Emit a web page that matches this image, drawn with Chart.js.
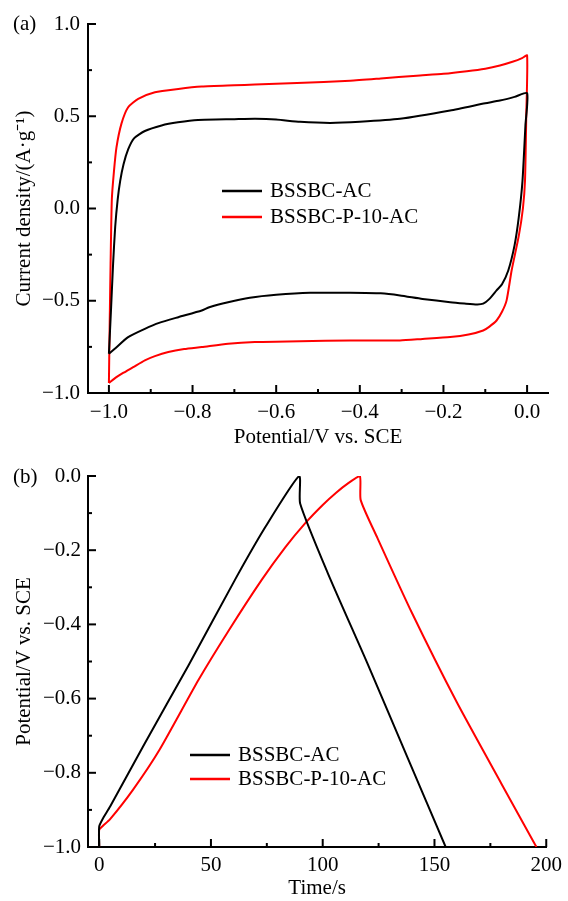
<!DOCTYPE html>
<html>
<head>
<meta charset="utf-8">
<script src="https://cdn.jsdelivr.net/npm/chart.js@4.4.1/dist/chart.umd.min.js"></script>
<style>
  body { margin: 0; background: #fff; }
  #wrap { position: relative; width: 568px; height: 901px; }
  canvas { position: absolute; left: 0; }
</style>
</head>
<body>
<div id="wrap">
  <canvas id="cvChart" width="568" height="450" style="top:0"></canvas>
  <canvas id="gcdChart" width="568" height="451" style="top:450px"></canvas>
</div>
<script>
// CV loops (potential V, current density A/g), anodic sweep then cathodic sweep
const cvPotentialAC = [-1.0, -0.995, -0.99, -0.985, -0.979, -0.973, -0.965, -0.954, -0.94, -0.914, -0.874, -0.835, -0.787, -0.7, -0.65, -0.6, -0.543, -0.471, -0.4, -0.304, -0.184, -0.1, -0.065, -0.03, 0.0,
  -0.004, -0.011, -0.02, -0.03, -0.045, -0.06, -0.073, -0.09, -0.105, -0.12, -0.15, -0.184, -0.25, -0.304, -0.35, -0.423, -0.519, -0.6, -0.663, -0.715, -0.76, -0.778, -0.834, -0.88, -0.914, -0.954, -0.986, -1.0];
const cvCurrentAC = [-0.787, -0.55, -0.3, -0.1, 0.05, 0.15, 0.24, 0.32, 0.38, 0.42, 0.45, 0.467, 0.48, 0.484, 0.486, 0.482, 0.47, 0.464, 0.47, 0.486, 0.531, 0.57, 0.585, 0.605, 0.625,
  0.45, 0.15, -0.05, -0.2, -0.336, -0.41, -0.444, -0.49, -0.516, -0.52, -0.515, -0.508, -0.49, -0.471, -0.46, -0.457, -0.457, -0.468, -0.484, -0.508, -0.535, -0.553, -0.589, -0.62, -0.652, -0.697, -0.76, -0.787];

const cvPotentialP10 = [-1.0, -0.998, -0.996, -0.993, -0.988, -0.982, -0.97, -0.954, -0.93, -0.89, -0.834, -0.778, -0.7, -0.651, -0.55, -0.423, -0.35, -0.264, -0.2, -0.144, -0.1, -0.065, -0.035, -0.012, 0.0,
  -0.002, -0.005, -0.01, -0.02, -0.037, -0.049, -0.06, -0.073, -0.09, -0.105, -0.14, -0.184, -0.25, -0.304, -0.423, -0.543, -0.651, -0.715, -0.778, -0.82, -0.858, -0.89, -0.914, -0.942, -0.965, -0.982, -1.0];
const cvCurrentP10 = [-0.946, -0.6, -0.3, 0.05, 0.2, 0.33, 0.46, 0.549, 0.594, 0.63, 0.648, 0.661, 0.668, 0.672, 0.68, 0.693, 0.705, 0.72, 0.73, 0.744, 0.758, 0.775, 0.795, 0.815, 0.83,
  0.5, 0.15, 0.0, -0.15, -0.336, -0.498, -0.56, -0.607, -0.64, -0.661, -0.683, -0.697, -0.707, -0.715, -0.715, -0.72, -0.724, -0.733, -0.751, -0.762, -0.778, -0.8, -0.823, -0.86, -0.89, -0.914, -0.946];

// charge/discharge (time s, potential V)
const gcdTimeAC = [0, 0, 1.5, 4.9, 20, 40, 61.1, 74.4, 89.5, 89.9, 102.5, 120, 138, 155];
const gcdPotentialAC = [-1.0, -0.945, -0.925, -0.891, -0.725, -0.51, -0.276, -0.137, 0.0, -0.074, -0.265, -0.505, -0.76, -1.0];
const gcdTimeP10 = [0, 0, 1.5, 4.9, 15.1, 27, 44.4, 58.1, 72.7, 83.4, 92.2, 100, 106, 111.3, 116.6, 117, 124.7, 140, 160, 180, 195.6];
const gcdPotentialP10 = [-1.0, -0.954, -0.944, -0.925, -0.846, -0.738, -0.55, -0.415, -0.28, -0.191, -0.127, -0.078, -0.045, -0.02, 0.0, -0.065, -0.17, -0.37, -0.61, -0.83, -1.0];

const seriesNames = ['BSSBC-AC', 'BSSBC-P-10-AC'];
const seriesColors = ['#000000', '#ff0000'];

const FONT = "'Liberation Serif', 'Times New Roman', serif";
Chart.defaults.font.family = FONT;
Chart.defaults.font.size = 21;
Chart.defaults.color = '#000';

const pts = (xs, ys) => xs.map((x, i) => ({ x, y: ys[i] }));
const minus = s => s.replace('-', '\u2212');

// inward major/minor tick marks on the left and bottom axes
const innerTicks = {
  id: 'innerTicks',
  afterDraw(chart, args, o) {
    const { ctx, chartArea: a, scales: { x, y } } = chart;
    ctx.save();
    ctx.strokeStyle = '#000';
    ctx.lineWidth = 2;
    const mark = (scale, step, horiz) => {
      const k0 = Math.ceil(scale.min / (step / 2) - 1e-6);
      const k1 = Math.floor(scale.max / (step / 2) + 1e-6);
      for (let k = k0; k <= k1; k++) {
        const len = k % 2 === 0 ? 8 : 4;
        const p = scale.getPixelForValue(k * step / 2);
        ctx.beginPath();
        if (horiz) { ctx.moveTo(p, a.bottom); ctx.lineTo(p, a.bottom - len); }
        else { ctx.moveTo(a.left, p); ctx.lineTo(a.left + len, p); }
        ctx.stroke();
      }
    };
    mark(x, o.xStep, true);
    mark(y, o.yStep, false);
    ctx.restore();
  }
};

// legend lines + names, and the panel letter
const sideNotes = {
  id: 'sideNotes',
  afterDraw(chart, args, o) {
    const ctx = chart.ctx;
    ctx.save();
    ctx.font = '21px ' + FONT;
    ctx.textBaseline = 'middle';
    ctx.fillStyle = '#000';
    ctx.fillText(o.panel, 13, o.panelY);
    seriesNames.forEach((name, i) => {
      const yy = o.y0 + i * o.gap;
      ctx.strokeStyle = seriesColors[i];
      ctx.lineWidth = 2.5;
      ctx.beginPath();
      ctx.moveTo(o.x0, yy);
      ctx.lineTo(o.x0 + 40, yy);
      ctx.stroke();
      ctx.fillStyle = '#000';
      ctx.fillText(name, o.x0 + 48, yy);
    });
    ctx.restore();
  }
};

function axis(min, max, step, title, fmt, pad, titlePad, fit) {
  return {
    type: 'linear', min, max,
    grid: { display: false, drawTicks: false },
    border: { display: true, color: '#000', width: 2 },
    ticks: { stepSize: step, includeBounds: false, autoSkip: false, maxRotation: 0, padding: pad, callback: fmt },
    title: { display: true, text: title, padding: titlePad },
    afterFit: fit
  };
}

function lineSet(data, i) {
  return {
    label: seriesNames[i], data, borderColor: seriesColors[i], borderWidth: 2,
    showLine: true, pointRadius: 0, tension: 0.2, fill: false
  };
}

const fmt1 = v => minus(v.toFixed(1));

new Chart(document.getElementById('cvChart'), {
  type: 'scatter',
  data: { datasets: [lineSet(pts(cvPotentialAC, cvCurrentAC), 0), lineSet(pts(cvPotentialP10, cvCurrentP10), 1)] },
  options: {
    responsive: false, animation: false, devicePixelRatio: 1,
    layout: { padding: { top: 24, right: 20, left: 0, bottom: 0 } },
    plugins: {
      legend: { display: false }, tooltip: { enabled: false },
      innerTicks: { xStep: 0.2, yStep: 0.5 },
      sideNotes: { panel: '(a)', panelY: 24, x0: 222, y0: 191, gap: 26 }
    },
    scales: {
      x: axis(-1.05, 0.05, 0.2, 'Potential/V vs. SCE', fmt1, 7, { top: 0, bottom: 0 }, s => { s.height = 57; }),
      y: axis(-1.0, 1.0, 0.5, 'Current density/(A\u00b7g\u207b\u00b9)', fmt1, 8, { top: 12, bottom: 0 }, s => { s.width = 88; })
    }
  },
  plugins: [innerTicks, sideNotes]
});

new Chart(document.getElementById('gcdChart'), {
  type: 'scatter',
  data: { datasets: [lineSet(pts(gcdTimeAC, gcdPotentialAC), 0), lineSet(pts(gcdTimeP10, gcdPotentialP10), 1)] },
  options: {
    responsive: false, animation: false, devicePixelRatio: 1,
    layout: { padding: { top: 26, right: 18, left: 0, bottom: 0 } },
    plugins: {
      legend: { display: false }, tooltip: { enabled: false },
      innerTicks: { xStep: 50, yStep: 0.2 },
      sideNotes: { panel: '(b)', panelY: 27, x0: 190, y0: 305, gap: 24 }
    },
    scales: {
      x: axis(-5, 200, 50, 'Time/s', v => String(v), 6, { top: 0, bottom: 0 }, s => { s.height = 54; }),
      y: axis(-1.0, 0.0, 0.2, 'Potential/V vs. SCE', fmt1, 7, { top: 12, bottom: 0 }, s => { s.width = 88; })
    }
  },
  plugins: [innerTicks, sideNotes]
});
</script>
</body>
</html>
